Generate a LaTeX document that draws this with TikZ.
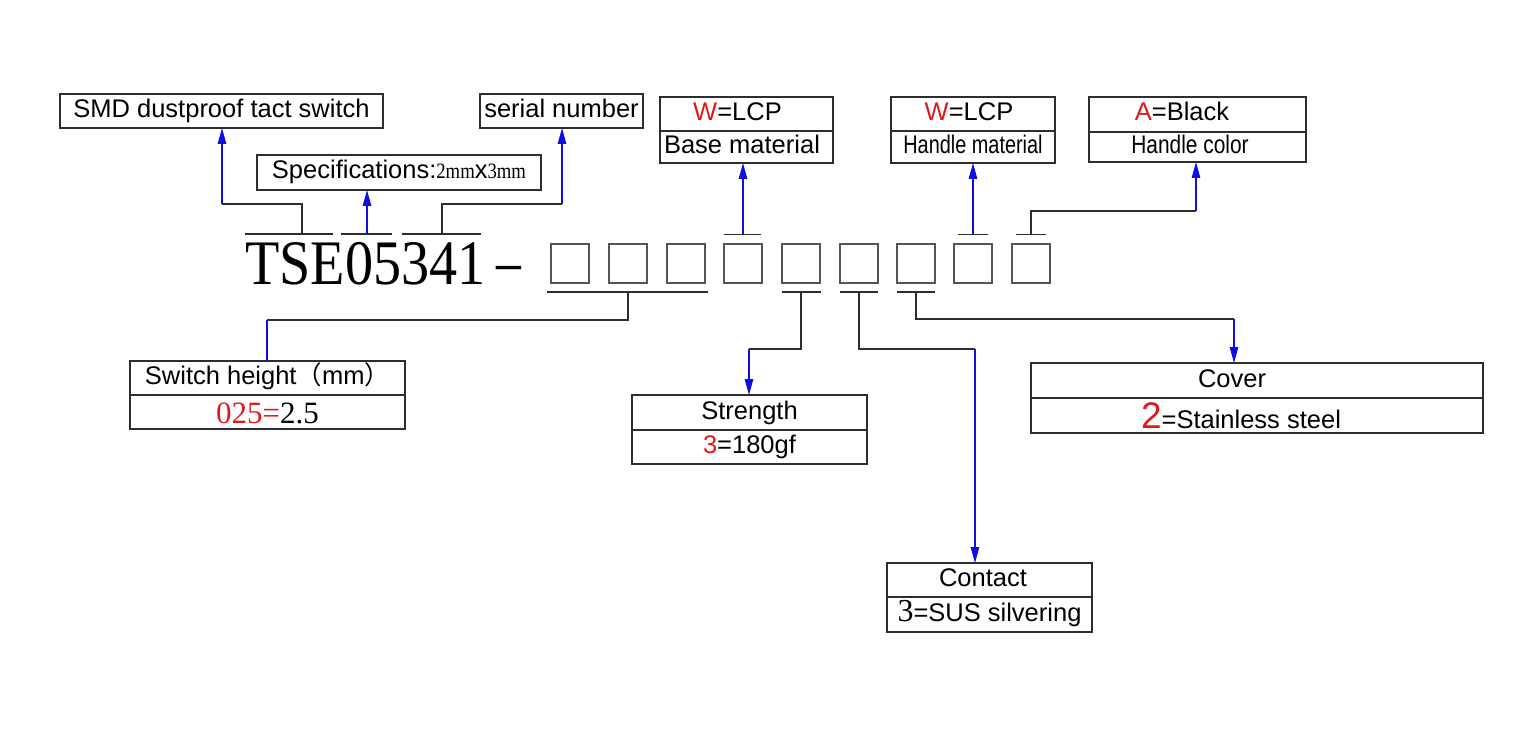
\documentclass[tikz,border=0pt]{standalone}
\usepackage{fontspec}
\usepackage{graphicx}
\setmainfont{Liberation Sans}
\newfontfamily\seriffont{Liberation Serif}
\newfontfamily\cjk{Noto Sans CJK SC}
\usetikzlibrary{arrows.meta}
\definecolor{ink}{RGB}{45,45,45}
\definecolor{sqc}{RGB}{85,85,85}
\definecolor{lnblue}{RGB}{15,15,225}
\definecolor{rd}{RGB}{225,25,25}
\newcommand{\nar}[2][0.8]{\scalebox{#1}[1]{#2}}
\begin{document}
\begin{tikzpicture}[x=1pt,y=-1pt,
  cell/.style={draw=ink, line width=1.3pt, inner sep=0pt, outer sep=0pt, anchor=north west,
    font=\fontsize{25.5}{30}\selectfont, text height=18pt, text depth=5pt},
  sqbox/.style={draw=sqc, line width=1.8pt, minimum width=38pt, minimum height=39pt, inner sep=0pt, outer sep=0pt},
  bar/.style={draw=ink, line width=1.3pt},
  lead/.style={draw=ink, line width=1.2pt},
  blead/.style={draw=lnblue, line width=1.2pt},
  barrow/.style={blead, -{Triangle[length=16pt,width=8.5pt]}}
]
\useasboundingbox[fill=white] (0,0) rectangle (1515,735);

% top boxes
\node[cell, minimum width=323pt, minimum height=34pt] (smd) at (60,94) {SMD dustproof tact switch};
\node[cell, minimum width=163pt, minimum height=34pt] (serial) at (480,94) {serial number};
\node[cell, minimum width=284pt, minimum height=35pt] (spec) at (257,155)
  {Specifications:\nar[0.85]{\fontsize{22}{26}\seriffont 2mm}x\nar[0.85]{\fontsize{22}{26}\seriffont 3mm}};

\node[cell, minimum width=173pt, minimum height=34pt] (base1) at (660,97) {\textcolor{rd}{W}=LCP\hspace*{18pt}};
\node[cell, minimum width=173pt, minimum height=32pt] (base2) at (base1.south west) {Base material\hspace*{9pt}};

\node[cell, minimum width=164pt, minimum height=34pt] (hm1) at (891,97) {\textcolor{rd}{W}=LCP\hspace*{8pt}};
\node[cell, minimum width=164pt, minimum height=32pt] (hm2) at (hm1.south west) {\nar[0.78]{Handle material}};

\node[cell, minimum width=217pt, minimum height=35pt] (hc1) at (1089,97) {\textcolor{rd}{A}=Black\hspace*{31pt}};
\node[cell, minimum width=217pt, minimum height=30pt] (hc2) at (hc1.south west) {\nar[0.82]{Handle color}\hspace*{15pt}};

% code line
\node[anchor=base west, inner sep=0pt] (code) at (245,284)
  {\scalebox{0.886}[1]{\fontsize{63.4}{70}\seriffont TSE05341\kern8pt\raisebox{6pt}{\scalebox{1.75}[0.7]{-}}}};
\foreach \i/\x in {1/570,2/628,3/686,4/743,5/801,6/859,7/916,8/973,9/1031}
  \node[sqbox] (s\i) at (\x,263.5) {};

% over- and underlines
\draw[bar] (245,234) -- (333,234);
\draw[bar] (341,234) -- (392,234);
\draw[bar] (402,234) -- (481,234);
\draw[bar] (724,234.5) -- (761,234.5);
\draw[bar] (958,234.5) -- (988,234.5);
\draw[bar] (1016,234.5) -- (1046,234.5);
\draw[bar] (547,292) -- (708,292);
\draw[bar] (782,292) -- (821,292);
\draw[bar] (840,292) -- (878,292);
\draw[bar] (897,292) -- (935,292);

% bottom boxes
\node[cell, minimum width=275pt, minimum height=34pt] (sh1) at (130,361) {Switch height{\cjk （}mm{\cjk ）}};
\node[cell, minimum width=275pt, minimum height=34pt, text height=22pt, text depth=0pt] (sh2) at (sh1.south west)
  {\fontsize{31}{34}\seriffont\textcolor{rd}{025=}2.5};

\node[cell, minimum width=235pt, minimum height=35pt] (st1) at (632,395) {Strength};
\node[cell, minimum width=235pt, minimum height=34pt] (st2) at (st1.south west) {\textcolor{rd}{3}=180gf};

\node[cell, minimum width=452pt, minimum height=35pt] (cv1) at (1031,363) {Cover\hspace*{50pt}};
\node[cell, minimum width=452pt, minimum height=35pt, text height=25pt, text depth=0pt] (cv2) at (cv1.south west)
  {{\fontsize{37}{40}\selectfont\textcolor{rd}{2}}=Stainless steel\hspace*{32pt}};

\node[cell, minimum width=205pt, minimum height=34pt] (ct1) at (887,563) {Contact\hspace*{13pt}};
\node[cell, minimum width=205pt, minimum height=35pt] (ct2) at (ct1.south west)
  {{\fontsize{32}{34}\seriffont 3}=SUS silvering};

% lead start points and joints
\coordinate (t1) at (302,234);
\coordinate (t2) at (367,234);
\coordinate (t3) at (442,234);
\coordinate (t4) at (743,234.5);
\coordinate (t8) at (973,234.5);
\coordinate (t9) at (1031,234.5);
\coordinate (b1) at (628,292);
\coordinate (b5) at (801,292);
\coordinate (b6) at (859,292);
\coordinate (b7) at (916,292);
\coordinate (j1) at (222,204);
\coordinate (j3) at (562,204);
\coordinate (j9) at (1196,211);
\coordinate (k1) at (267,320);
\coordinate (k5) at (749,349);
\coordinate (k6) at (975,349);
\coordinate (k7) at (1234,319);

% connectors
\draw[lead] (t1) |- (j1);
\draw[barrow] (j1) -- (j1 |- smd.south);
\draw[barrow] (t2) -- (t2 |- spec.south);
\draw[lead] (t3) |- (j3);
\draw[barrow] (j3) -- (j3 |- serial.south);
\draw[barrow] (t4) -- (t4 |- base2.south);
\draw[barrow] (t8) -- (t8 |- hm2.south);
\draw[lead] (t9) |- (j9);
\draw[barrow] (j9) -- (j9 |- hc2.south);
\draw[lead] (b1) |- (k1);
\draw[blead] (k1) -- (k1 |- sh1.north);
\draw[lead] (b5) |- (k5);
\draw[barrow] (k5) -- (k5 |- st1.north);
\draw[lead] (b6) |- (k6);
\draw[barrow] (k6) -- (k6 |- ct1.north);
\draw[lead] (b7) |- (k7);
\draw[barrow] (k7) -- (k7 |- cv1.north);
\end{tikzpicture}
\end{document}
